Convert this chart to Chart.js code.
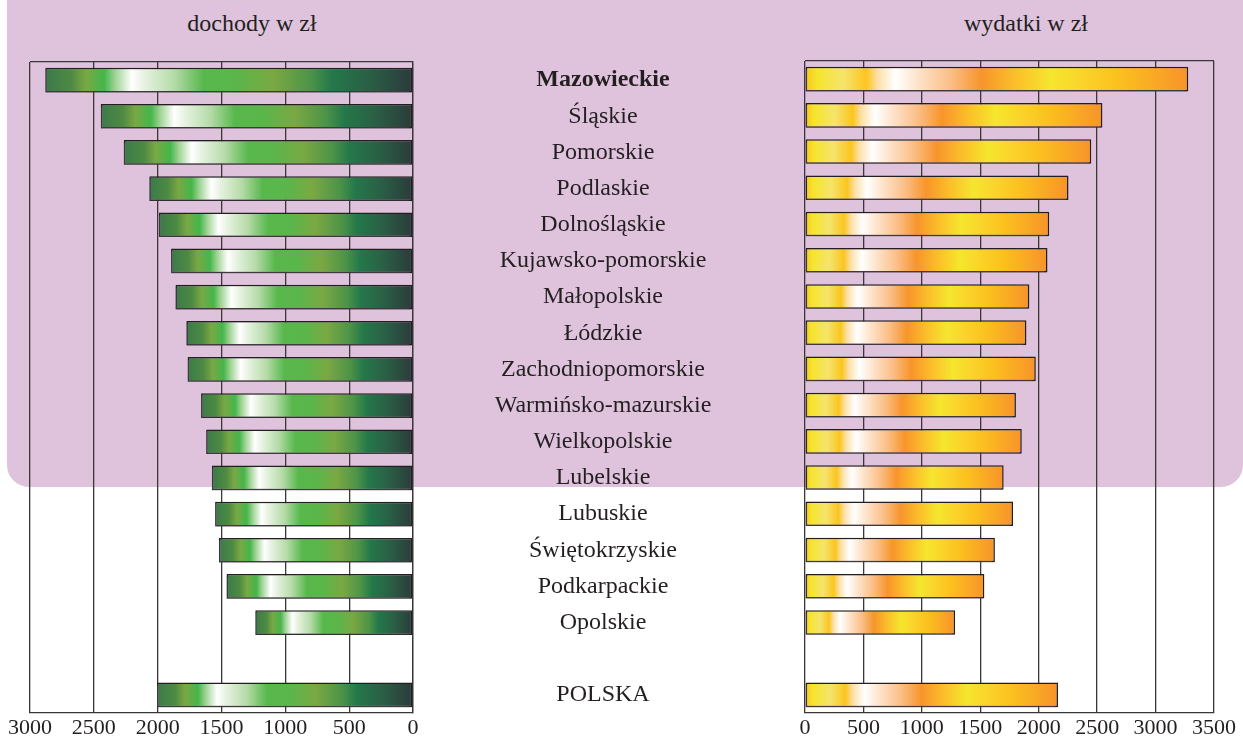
<!DOCTYPE html>
<html lang="pl">
<head>
<meta charset="utf-8">
<title>Dochody i wydatki</title>
<script src="https://cdn.jsdelivr.net/npm/chart.js@4/dist/chart.umd.min.js"></script>
<style>
    body { margin: 0; background: #fff; }
    #wrap { position: relative; width: 1243px; height: 740px; overflow: hidden; font-family: "Liberation Serif", "Times New Roman", serif; color: #231f20; }
    #bg { position: absolute; left: 7px; top: -40px; width: 1236px; height: 527px; background: #dfc3dd; border-radius: 22px; }
    .head { position: absolute; top: 11px; font-size: 24px; line-height: 24px; transform: translateX(-50%); white-space: nowrap; }
    canvas { position: absolute; top: 0; }
</style>
</head>
<body>
<div id="wrap">
    <div id="bg"></div>
    <div class="head" style="left:252px">dochody w zł</div>
    <div class="head" style="left:1026px">wydatki w zł</div>
    <canvas id="incomeChart" width="800" height="740" style="left:0"></canvas>
    <canvas id="expenseChart" width="453" height="740" style="left:790px"></canvas>
</div>
<script>
// dane
const regions = ['Mazowieckie', 'Śląskie', 'Pomorskie', 'Podlaskie', 'Dolnośląskie', 'Kujawsko-pomorskie',
    'Małopolskie', 'Łódzkie', 'Zachodniopomorskie', 'Warmińsko-mazurskie', 'Wielkopolskie', 'Lubelskie',
    'Lubuskie', 'Świętokrzyskie', 'Podkarpackie', 'Opolskie', '', 'POLSKA'];
const income = [2880, 2445, 2265, 2065, 1990, 1895, 1860, 1775, 1765, 1660, 1620, 1575, 1550, 1520, 1460, 1235, null, 2005];
const expenses = [3280, 2545, 2450, 2255, 2090, 2075, 1920, 1895, 1975, 1805, 1855, 1700, 1780, 1625, 1535, 1285, null, 2165];
const incomeMax = 3000;
const expenseMax = 3500;
const tickStep = 500;

const ink = '#231f20';
const gridColor = '#3b3637';
const serif = '"Liberation Serif", "Times New Roman", serif';

// gradient stops, 0 = bar end away from zero for green, 0 = zero for orange
const greenStops = [[0, '#3b7a4b'], [0.07, '#4d8a42'], [0.11, '#79a844'], [0.16, '#44b64a'], [0.19, '#9fd393'],
    [0.235, '#ffffff'], [0.27, '#e6f2e0'], [0.35, '#b5dba8'], [0.43, '#58b84c'], [0.52, '#5ab64a'],
    [0.62, '#7aa843'], [0.72, '#4d9447'], [0.78, '#24784a'], [0.88, '#2a5f45'], [1, '#2b3a3b']];
const orangeStops = [[0, '#fbc21c'], [0.03, '#f6e42c'], [0.1, '#f5e46c'], [0.16, '#fbc51f'], [0.19, '#fde0a8'],
    [0.235, '#ffffff'], [0.3, '#fde1c6'], [0.38, '#fbbe86'], [0.46, '#f7952b'], [0.55, '#fbbf2a'],
    [0.64, '#f5e62e'], [0.73, '#fbd22a'], [0.82, '#fbc01e'], [1, '#f7932a']];

// gradient per bar, stretched along its own length
function barFill(stops, fromEnd) {
    return function(ctx) {
        const chart = ctx.chart;
        if (!chart.chartArea || ctx.raw == null) return 'transparent';
        const x = chart.scales.x;
        const p0 = x.getPixelForValue(0);
        const p1 = x.getPixelForValue(ctx.raw);
        const g = fromEnd ? chart.ctx.createLinearGradient(p1, 0, p0, 0) : chart.ctx.createLinearGradient(p0, 0, p1, 0);
        stops.forEach(s => g.addColorStop(s[0], s[1]));
        return g;
    };
}

// light drop shadow under bars
const barShadow = {
    id: 'barShadow',
    beforeDatasetsDraw(chart) {
        const c = chart.ctx;
        c.save();
        c.shadowColor = 'rgba(90, 80, 90, 0.55)';
        c.shadowOffsetX = -1.5;
        c.shadowOffsetY = 1.5;
        c.shadowBlur = 1;
    },
    afterDatasetsDraw(chart) {
        chart.ctx.restore();
    }
};

// top frame line only
function topLine(ctx) {
    return ctx.index === 0 ? gridColor : 'transparent';
}

// centre the region names between the two panels
const measure = document.createElement('canvas').getContext('2d');
measure.font = '24px ' + serif;
const widest = Math.max(...regions.map(r => measure.measureText(r).width));
const labelPad = 603 - 413 - widest / 2;

const plainTicks = { stepSize: tickStep, color: ink, font: { family: serif, size: 22 }, padding: 2, maxRotation: 0, callback: v => String(v) };

new Chart(document.getElementById('incomeChart'), {
    type: 'bar',
    data: {
        labels: regions,
        datasets: [{
            data: income,
            backgroundColor: barFill(greenStops, true),
            borderColor: ink,
            borderWidth: 1.5,
            borderSkipped: false,
            barPercentage: 0.68,
            categoryPercentage: 1
        }]
    },
    options: {
        indexAxis: 'y',
        responsive: false,
        animation: false,
        layout: { padding: { top: 62, left: 30, right: 0, bottom: 0 } },
        plugins: { legend: { display: false }, tooltip: { enabled: false } },
        scales: {
            x: {
                reverse: true,
                min: 0,
                max: incomeMax,
                ticks: plainTicks,
                grid: { color: gridColor, lineWidth: 1.3, drawTicks: false },
                border: { color: gridColor, width: 1.3 },
                afterFit(scale) { scale.height = 27; }
            },
            y: {
                position: 'right',
                ticks: {
                    color: ink,
                    crossAlign: 'center',
                    padding: labelPad,
                    font: ctx => ({ family: serif, size: 24, weight: ctx.index === 0 ? 'bold' : 'normal' })
                },
                grid: { color: topLine, lineWidth: 1.3, drawTicks: false },
                border: { color: gridColor, width: 1.3 },
                afterFit(scale) {
                    scale.width = 387;
                    scale.paddingTop = 0;
                    scale.paddingBottom = 0;
                }
            }
        }
    },
    plugins: [barShadow]
});

new Chart(document.getElementById('expenseChart'), {
    type: 'bar',
    data: {
        labels: regions,
        datasets: [{
            data: expenses,
            backgroundColor: barFill(orangeStops, false),
            borderColor: ink,
            borderWidth: 1.5,
            borderSkipped: false,
            barPercentage: 0.68,
            categoryPercentage: 1
        }]
    },
    options: {
        indexAxis: 'y',
        responsive: false,
        animation: false,
        layout: { padding: { top: 61, left: 15, right: 29, bottom: 0 } },
        plugins: { legend: { display: false }, tooltip: { enabled: false } },
        scales: {
            x: {
                min: 0,
                max: expenseMax,
                ticks: plainTicks,
                grid: { color: gridColor, lineWidth: 1.3, drawTicks: false },
                border: { color: gridColor, width: 1.3 },
                afterFit(scale) { scale.height = 27; }
            },
            y: {
                ticks: { display: false },
                grid: { color: topLine, lineWidth: 1.3, drawTicks: false },
                border: { display: false },
                afterFit(scale) { scale.width = 0; }
            }
        }
    },
    plugins: [barShadow]
});
</script>
</body>
</html>
